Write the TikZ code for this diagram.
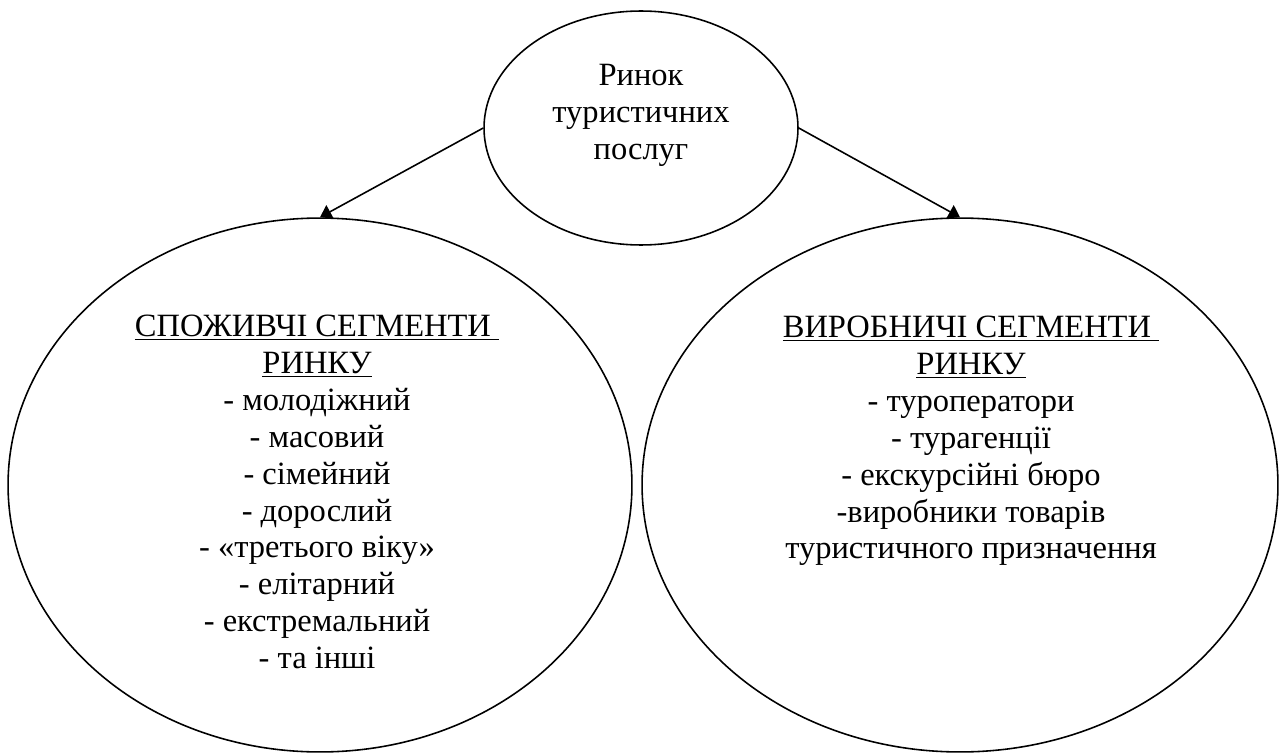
\documentclass[tikz,border=0pt]{standalone}
\usepackage{fontspec}
\setmainfont{Liberation Serif}
\usetikzlibrary{shapes.geometric,arrows.meta}
\begin{document}
\begin{tikzpicture}[x=0.02cm, y=-0.02cm,
        oval/.style={ellipse, draw, line width=0.9pt, inner sep=0pt},
        lbl/.style={align=center, inner sep=0pt, font=\fontsize{18.5}{21}\selectfont},
        arr/.style={-{Triangle[length=6.5pt,width=8.5pt]}, line width=0.9pt}
    ]
    \useasboundingbox (0,0) rectangle (1280,753);
    \node[oval, minimum width=6.28cm, minimum height=4.68cm] (rynok) at (641,128) {};
    \node[oval, minimum width=12.48cm, minimum height=10.68cm] (spozh) at (320,485) {};
    \node[oval, minimum width=12.72cm, minimum height=10.68cm] (vyrob) at (960,485) {};
    \node[lbl] (rynoktxt) at (641,115) {Ринок\\туристичних\\послуг};
    \node[lbl] (spozhtxt) at (317,492) {
        \underline{СПОЖИВЧІ СЕГМЕНТИ\ }\\
        \underline{РИНКУ}\\
        - молодіжний\\
        - масовий\\
        - сімейний\\
        - дорослий\\
        - «третього віку»\\
        - елітарний\\
        - екстремальний\\
        - та інші
    };
    \node[lbl] (vyrobtxt) at (971,441) {
        \underline{ВИРОБНИЧІ СЕГМЕНТИ\ }\\
        \underline{РИНКУ}\\
        - туроператори\\
        - турагенції\\
        - екскурсійні бюро\\
        -виробники товарів\\
        туристичного призначення
    };
    \draw[arr] (rynok.west) -- (spozh.north);
    \draw[arr] (rynok.east) -- (vyrob.north);
\end{tikzpicture}
\end{document}
